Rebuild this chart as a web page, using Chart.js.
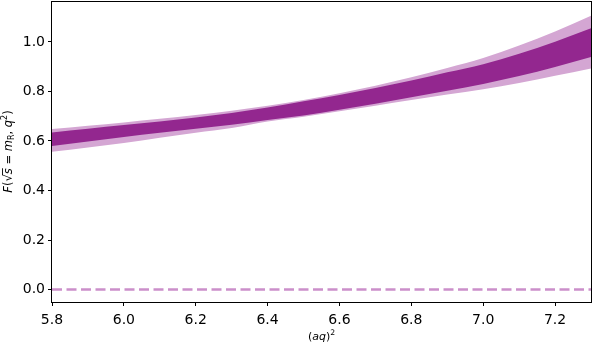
<!DOCTYPE html>
<html>
<head>
<meta charset="utf-8">
<script src="https://cdn.jsdelivr.net/npm/chart.js@4.4.0/dist/chart.umd.min.js"></script>
<style>
  html, body { margin: 0; padding: 0; background: #fff; }
  #wrap { width: 593px; height: 343px; position: relative; }
</style>
</head>
<body>
<div id="wrap"><canvas id="chartCanvas"></canvas></div>
<script>
// values
var xValues = [5.8, 5.9, 6.0, 6.1, 6.2, 6.3, 6.4, 6.5, 6.6, 6.7, 6.8, 6.9, 7.0, 7.1, 7.2, 7.3];
var outerHigh = [0.648, 0.661, 0.675, 0.690, 0.705, 0.722, 0.742, 0.765, 0.793, 0.823, 0.857, 0.895, 0.935, 0.985, 1.042, 1.105];
var innerHigh = [0.634, 0.649, 0.664, 0.679, 0.695, 0.713, 0.735, 0.760, 0.786, 0.814, 0.844, 0.877, 0.910, 0.952, 1.001, 1.055];
var innerLow = [0.580, 0.598, 0.616, 0.633, 0.649, 0.665, 0.685, 0.703, 0.726, 0.750, 0.776, 0.803, 0.830, 0.862, 0.899, 0.939];
var outerLow = [0.556, 0.574, 0.592, 0.613, 0.633, 0.652, 0.679, 0.698, 0.720, 0.742, 0.765, 0.788, 0.809, 0.834, 0.863, 0.893];
var zeroX = [5.8, 7.3];
var zeroY = [0, 0];
var xTicks = [5.8, 6.0, 6.2, 6.4, 6.6, 6.8, 7.0, 7.2];
var yTicks = [0.0, 0.2, 0.4, 0.6, 0.8, 1.0];
var xRange = [5.8, 7.3];
var yRange = [-0.05, 1.165];

var darkPurple = '#93278f';
var lightPurple = '#d4a6d3';
var dashColor = '#cb8fca';
var fontFamily = '"DejaVu Sans", sans-serif';

var toPoints = function (xs, ys) {
    return xs.map(function (x, i) { return { x: x, y: ys[i] }; });
};

var bandSet = function (ys, fill, color, order) {
    return {
        data: toPoints(xValues, ys),
        fill: fill,
        backgroundColor: color,
        borderColor: 'rgba(0,0,0,0)',
        borderWidth: 0,
        pointRadius: 0,
        cubicInterpolationMode: 'monotone',
        order: order
    };
};

// draws a label made of pieces (italic, sub, sup, overbar)
var drawRich = function (ctx, parts, size) {
    var widths = parts.map(function (p) {
        var s = (p.sub || p.sup) ? size * 0.7 : size;
        ctx.font = (p.i ? 'italic ' : '') + s + 'px ' + fontFamily;
        return ctx.measureText(p.t).width;
    });
    var total = widths.reduce(function (a, b) { return a + b; }, 0);
    var x = -total / 2;
    ctx.textBaseline = 'alphabetic';
    ctx.textAlign = 'left';
    parts.forEach(function (p, k) {
        var s = (p.sub || p.sup) ? size * 0.7 : size;
        var dy = p.sub ? size * 0.2 : (p.sup ? -size * 0.42 : 0);
        ctx.font = (p.i ? 'italic ' : '') + s + 'px ' + fontFamily;
        ctx.fillText(p.t, x, dy);
        if (p.over) {
            ctx.fillRect(x - 1, -size * 0.86, widths[k] + 1, 0.9);
        }
        x += widths[k];
    });
};

var yTitleParts = [
    { t: 'F', i: true }, { t: '(' }, { t: '\u221A' }, { t: 's', i: true, over: true },
    { t: ' = ' }, { t: 'm', i: true }, { t: 'R', sub: true }, { t: ', ' },
    { t: 'q', i: true }, { t: '2', sup: true }, { t: ')' }
];
var xTitleParts = [{ t: '(' }, { t: 'aq', i: true }, { t: ')' }, { t: '2', sup: true }];

var framePlugin = {
    id: 'frame',
    afterDraw: function (chart) {
        var ctx = chart.ctx, a = chart.chartArea;
        ctx.save();
        ctx.strokeStyle = '#000';
        ctx.lineWidth = 1;
        ctx.strokeRect(Math.round(a.left) - 0.5, Math.round(a.top) + 0.5,
            Math.round(a.right - a.left) + 1, Math.round(a.bottom - a.top));
        ctx.fillStyle = '#000';
        ctx.translate(12, (a.top + a.bottom) / 2);
        ctx.rotate(-Math.PI / 2);
        drawRich(ctx, yTitleParts, 11.5);
        ctx.restore();
        ctx.save();
        ctx.fillStyle = '#000';
        ctx.translate((a.left + a.right) / 2, 339.5);
        drawRich(ctx, xTitleParts, 11);
        ctx.restore();
    }
};

var axisStyle = function (range, ticks, size, pad) {
    return {
        type: 'linear',
        min: range[0],
        max: range[1],
        afterBuildTicks: function (scale) {
            scale.ticks = ticks.map(function (v) { return { value: v }; });
        },
        afterFit: function (scale) {
            if (scale.isHorizontal()) scale.height = size; else scale.width = size;
            scale.paddingTop = 0;
            scale.paddingBottom = 0;
            scale.paddingLeft = 0;
            scale.paddingRight = 0;
        },
        ticks: {
            color: '#000',
            font: { family: fontFamily, size: 14 },
            padding: pad,
            maxRotation: 0,
            autoSkip: false,
            callback: function (v) { return Number(v).toFixed(1); }
        },
        grid: { drawOnChartArea: false, drawTicks: true, tickLength: 4, color: '#000', tickWidth: 1 },
        border: { display: false }
    };
};

var chartContext = document.getElementById('chartCanvas').getContext('2d');
var chartLine = new Chart(chartContext, {
    type: 'line',
    data: {
        datasets: [
            bandSet(innerLow, false, darkPurple, 1),
            bandSet(innerHigh, { target: 0 }, darkPurple, 1),
            bandSet(outerLow, false, lightPurple, 2),
            bandSet(outerHigh, { target: 2 }, lightPurple, 2),
            {
                data: toPoints(zeroX, zeroY),
                fill: false,
                borderColor: dashColor,
                borderWidth: 2.5,
                borderDash: [10, 4.5],
                pointRadius: 0,
                order: 0
            }
        ]
    },
    options: {
        responsive: true,
        maintainAspectRatio: false,
        animation: false,
        layout: { padding: { top: 1, right: 2, left: 0, bottom: 0 } },
        scales: {
            x: axisStyle(xRange, xTicks, 41, 6),
            y: axisStyle(yRange, yTicks, 52, 3)
        },
        plugins: {
            legend: { display: false },
            tooltip: { enabled: false }
        }
    },
    plugins: [framePlugin]
});
</script>
</body>
</html>
